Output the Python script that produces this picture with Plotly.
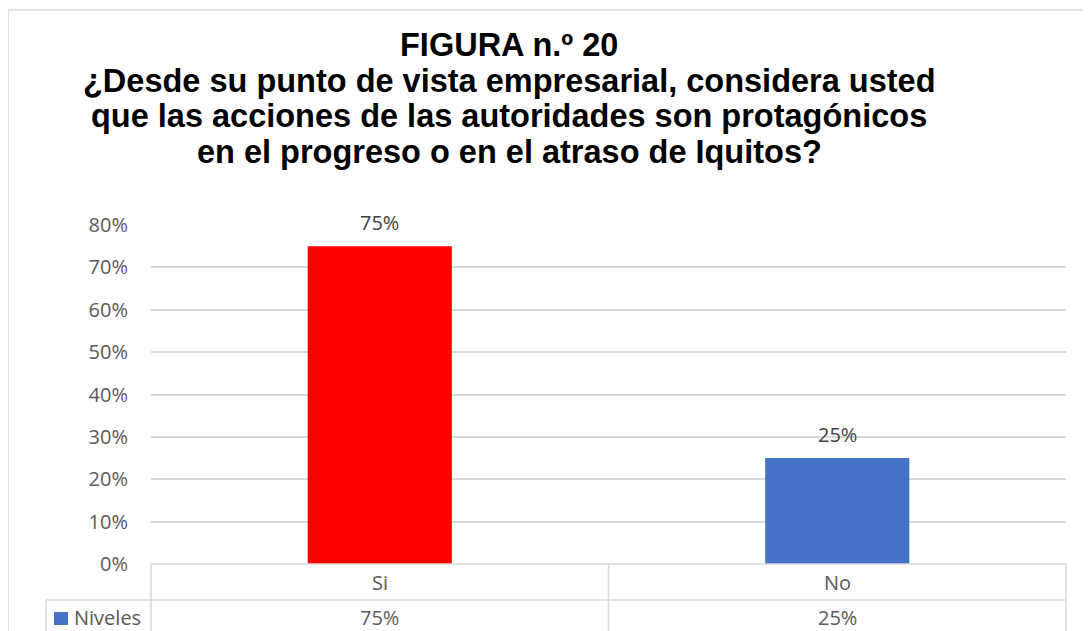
import plotly.graph_objects as go

categories = ["Si", "No"]
values = [0.75, 0.25]
bar_colors = ["#FF0000", "#4472C4"]
series_name = "Niveles"
y_ticks = [0, 0.1, 0.2, 0.3, 0.4, 0.5, 0.6, 0.7, 0.8]
title_lines = [
    "FIGURA n.º 20",
    "¿Desde su punto de vista empresarial, considera usted",
    "que las acciones de las autoridades son protagónicos",
    "en el progreso o en el atraso de Iquitos?",
]

OFF = 8  # page body margin
PAGE_W, PAGE_H = 1091, 631
W, H = PAGE_W - OFF, PAGE_H - OFF
# plot area in page pixels
PL, PR, PT, PB = 151, 1066, 225, 564
L, R, T, B = PL - OFF, W - (PR - OFF), PT - OFF, H - (PB - OFF)
pw, ph = W - L - R, H - T - B


def px(x):  # page x -> paper x
    return (x - OFF - L) / pw


def py(y):  # page y -> paper y
    return (PB - y) / ph


grid = "#D9D9D9"
txt = "#595959"
lbl = "#404040"
num_font = "Open Sans"
fs = 20

fig = go.Figure()
fig.add_trace(go.Bar(
    x=categories, y=values, marker_color=bar_colors, marker_line_width=0,
    name=series_name, showlegend=False,
))

shapes = []
line = dict(color=grid, width=1.5)
# outer chart frame (top and left edges)
shapes.append(dict(type="line", xref="paper", yref="paper", x0=px(8), x1=px(PAGE_W + 5), y0=py(10), y1=py(10), line=line))
shapes.append(dict(type="line", xref="paper", yref="paper", x0=px(8), x1=px(8), y0=py(10), y1=py(PAGE_H + 5), line=line))
# data table
shapes.append(dict(type="line", xref="paper", yref="paper", x0=0, x1=1, y0=0, y1=0, line=line))
shapes.append(dict(type="line", xref="paper", yref="paper", x0=px(46), x1=1, y0=py(600), y1=py(600), line=line))
shapes.append(dict(type="line", xref="paper", yref="paper", x0=0, x1=0, y0=0, y1=py(PAGE_H + 5), line=line))
shapes.append(dict(type="line", xref="paper", yref="paper", x0=0.5, x1=0.5, y0=0, y1=py(PAGE_H + 5), line=line))
shapes.append(dict(type="line", xref="paper", yref="paper", x0=1, x1=1, y0=0, y1=py(PAGE_H + 5), line=line))
shapes.append(dict(type="line", xref="paper", yref="paper", x0=px(46), x1=px(46), y0=py(600), y1=py(PAGE_H + 5), line=line))
# legend key
shapes.append(dict(type="rect", xref="paper", yref="paper", x0=px(54), x1=px(68), y0=py(625), y1=py(612),
                   fillcolor=bar_colors[1], line=dict(width=0)))

annotations = []
# title lines
title_y = [45, 81, 116, 152]
for t, yy in zip(title_lines, title_y):
    annotations.append(dict(x=px(509), xref="paper", y=py(yy), yref="paper", text="<b>" + t + "</b>",
                            showarrow=False, xanchor="center", yanchor="middle",
                            font=dict(family="Liberation Sans", size=32.5, color="#000000")))
# data labels above bars
for c, v in zip(categories, values):
    annotations.append(dict(x=c, xref="x", y=v, yref="y", text=f"{v:.0%}", showarrow=False,
                            yanchor="middle", yshift=24,
                            font=dict(family=num_font, size=fs, color=lbl)))
# data table texts
for c, v in zip(categories, values):
    annotations.append(dict(x=c, xref="x", y=py(582), yref="paper", text=c, showarrow=False,
                            font=dict(family=num_font, size=fs, color=txt), yanchor="middle"))
    annotations.append(dict(x=c, xref="x", y=py(617), yref="paper", text=f"{v:.0%}", showarrow=False,
                            font=dict(family=num_font, size=fs, color=txt), yanchor="middle"))
annotations.append(dict(x=px(72), xref="paper", y=py(617), yref="paper", text=series_name, showarrow=False,
                        xanchor="left", yanchor="middle", font=dict(family=num_font, size=fs, color=txt)))

fig.update_layout(
    width=W, height=H,
    margin=dict(l=L, r=R, t=T, b=B, autoexpand=False),
    paper_bgcolor="white", plot_bgcolor="white",
    bargap=0.685,
    xaxis=dict(showticklabels=False, showgrid=False, zeroline=False, showline=False, ticks=""),
    yaxis=dict(range=[0, 0.8], tickvals=y_ticks, tickformat=".0%", showgrid=True, gridcolor=grid,
               gridwidth=1.5, zeroline=False, showline=False, ticks="", ticklabelstandoff=22,
               tickfont=dict(family=num_font, size=fs, color=txt)),
    shapes=shapes, annotations=annotations,
)

fig.write_html("out.html")
